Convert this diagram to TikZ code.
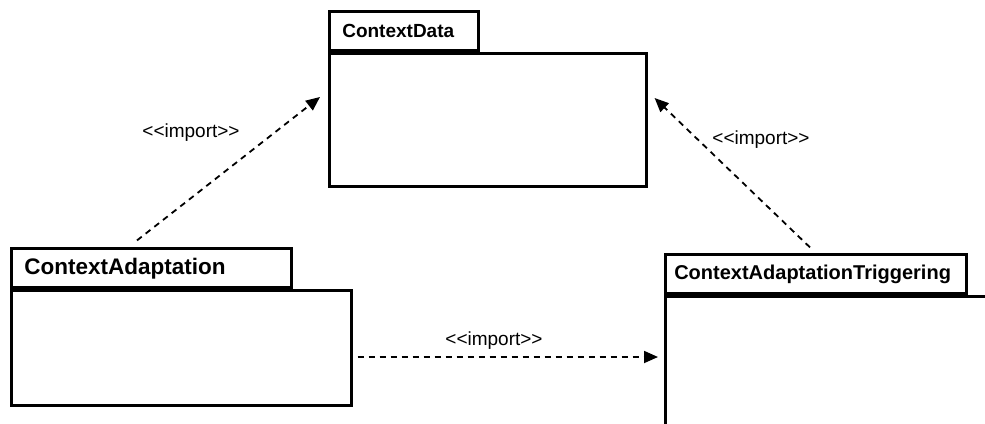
\documentclass[tikz,border=0pt]{standalone}
\usepackage{fontspec}
\setmainfont{Liberation Sans}
\usetikzlibrary{arrows.meta}
\newcommand{\stereo}[1]{\textless\kern0pt\textless\kern0pt#1\kern0pt\textgreater\kern0pt\textgreater}
\begin{document}
\begin{tikzpicture}[x=1pt,y=-1pt,
  pkgbody/.style={draw, line width=2.6pt, fill=white, rectangle, inner sep=0pt, anchor=north west},
  pkgtab/.style={draw, line width=2.6pt, fill=white, rectangle, inner ysep=0pt,
    minimum height=39pt, anchor=south west, align=left, font=\bfseries},
  imp/.style={line width=1.8pt, dash pattern=on 6pt off 5pt,
    -{Triangle[length=14pt,width=12pt]}},
  implabel/.style={inner sep=0pt, font=\fontsize{19pt}{19pt}\selectfont}]
\useasboundingbox (0,0) rectangle (985,423);
\clip (0,0) rectangle (985,423);
\fill[white] (0,0) rectangle (985,423);

% ContextData package
\node[pkgbody, minimum width=317pt, minimum height=133pt] (cd) at (328,52) {};
\node[pkgtab, inner xsep=13pt, text width=123pt] (cdtab) at (328,52)
  {\fontsize{19pt}{19pt}\selectfont ContextData};

% ContextAdaptation package
\node[pkgbody, minimum width=340pt, minimum height=115pt] (ca) at (10,289) {};
\node[pkgtab, inner xsep=13pt, text width=254pt] (catab) at (10,289)
  {\fontsize{22.5pt}{22.5pt}\selectfont ContextAdaptation};

% ContextAdaptationTriggering package (runs off the right and bottom edges)
\node[pkgbody, minimum width=340pt, minimum height=150pt] (cat) at (664,295) {};
\node[pkgtab, inner xsep=9pt, text width=283pt] (cattab) at (664,295)
  {\fontsize{20pt}{20pt}\selectfont ContextAdaptationTriggering};

% import dependencies
\draw[imp] ([shift={(127,-7)}]catab.north west) -- ([shift={(-8,45)}]cd.north west);
\draw[imp] ([shift={(146,-6)}]cattab.north west) -- ([shift={(7,46)}]cd.north east);
\draw[imp] ([shift={(5,68)}]ca.north east) -- ([shift={(-6,62)}]cat.north west);

\node[implabel] (l1) at (191,133) {\stereo{import}};
\node[implabel] (l2) at (761,140) {\stereo{import}};
\node[implabel] (l3) at (494,341) {\stereo{import}};
\end{tikzpicture}
\end{document}
